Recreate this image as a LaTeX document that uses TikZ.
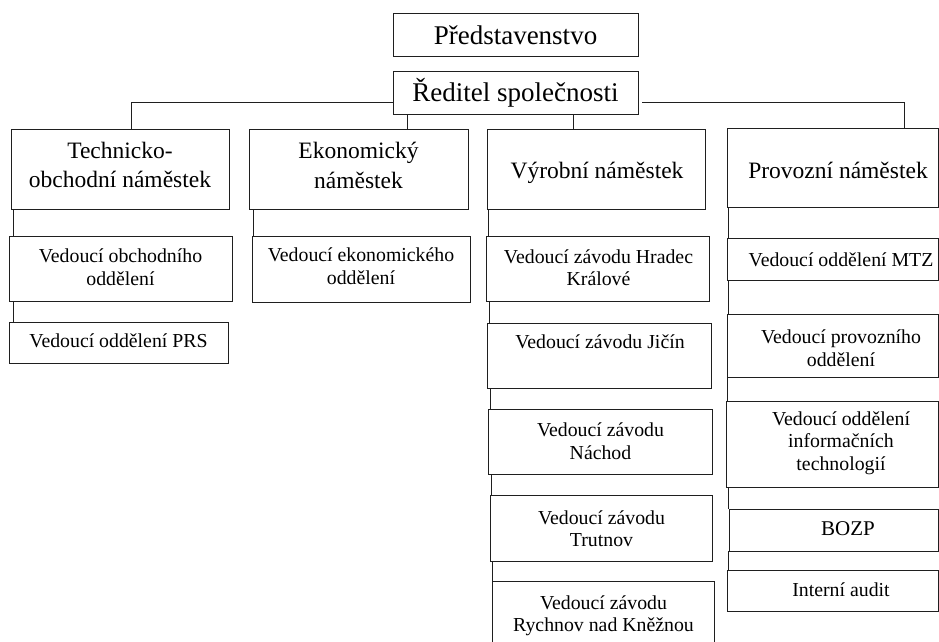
\documentclass[tikz,border=0pt]{standalone}
\usepackage{fontspec}
\setmainfont{Liberation Serif}

% box from its corners: name, x1, y1, x2, y2 (y grows downwards)
\newcommand\obox[5]{%
  \node[box, minimum width={(#4)-(#2)}, minimum height={(#5)-(#3)}]
    (#1) at ({((#2)+(#4))/2},{((#3)+(#5))/2}) {};}

\tikzset{
  box/.style={draw=black!88, line width=1pt, inner sep=0pt, outer sep=0pt},
  lnk/.style={draw=black!88, line width=1pt},
  toptxt/.style={font=\fontsize{27pt}{30pt}\selectfont, inner sep=0pt, anchor=base},
  headtxt/.style={font=\fontsize{23.5pt}{29.5pt}\selectfont, align=center, inner sep=0pt, anchor=base},
  subtxt/.style={font=\fontsize{19.8pt}{22.6pt}\selectfont, align=center, inner sep=0pt, anchor=base},
}

\begin{document}
\begin{tikzpicture}[x=1pt, y=-1pt]
\useasboundingbox (0,0) rectangle (939,642);
\fill[white] (0,0) rectangle (939,642);

% top of the hierarchy
\obox{pred}{393}{14}{638}{57}
\obox{red}{393}{71}{638}{114}
\node[toptxt] (pred-t) at (515.5,45) {Představenstvo};
\node[toptxt] (red-t) at (515.5,101.7) {Ředitel společnosti};

% deputies (text placed by the baseline of its last line)
\obox{tech}{11}{129}{229}{209}
\obox{ekon}{249}{129}{468}{209}
\obox{vyr}{487}{129}{705}{209}
\obox{prov}{727}{128}{938}{207}
\node[headtxt] (tech-t) at (120,187.7) {Technicko-\\obchodní náměstek};
\node[headtxt] (ekon-t) at (358.5,188.3) {Ekonomický\\náměstek};
\node[headtxt] (vyr-t) at (597,178.3) {Výrobní náměstek};
\node[headtxt] (prov-t) at (838,178.3) {Provozní náměstek};

% technical-commercial branch
\obox{obch}{9}{236}{232}{301}
\obox{prs}{9}{322}{228}{363}
\node[subtxt] (obch-t) at (120.5,285) {Vedoucí obchodního\\oddělení};
\node[subtxt] (prs-t) at (118.5,347.7) {Vedoucí oddělení PRS};

% economic branch
\obox{ekod}{252}{236}{470}{302}
\node[subtxt] (ekod-t) at (361,284.3) {Vedoucí ekonomického\\oddělení};

% production branch
\obox{hk}{486}{236}{709}{301}
\obox{jic}{487}{323}{711}{388}
\obox{nach}{488}{409}{712}{474}
\obox{trut}{490}{495}{712}{561}
\obox{rych}{492}{581}{714}{652}
\node[subtxt] (hk-t) at (598.5,285.7) {Vedoucí závodu Hradec\\Králové};
\node[subtxt] (jic-t) at (600,348.3) {Vedoucí závodu Jičín};
\node[subtxt] (nach-t) at (600.5,459.3) {Vedoucí závodu\\Náchod};
\node[subtxt] (trut-t) at (601.5,546.7) {Vedoucí závodu\\Trutnov};
\node[subtxt] (rych-t) at (603.5,631.7) {Vedoucí závodu\\Rychnov nad Kněžnou};

% operations branch
\obox{mtz}{727}{238}{938}{280}
\obox{provod}{727}{314}{938}{377}
\obox{it}{726}{401}{938}{487}
\obox{bozp}{729}{509}{938}{551}
\obox{audit}{727}{570}{938}{611}
\node[subtxt] (mtz-t) at (841,266) {Vedoucí oddělení MTZ};
\node[subtxt] (provod-t) at (841,366.5) {Vedoucí provozního\\oddělení};
\node[subtxt] (it-t) at (841,470.5) {Vedoucí oddělení\\informačních\\technologií};
\node[subtxt, font=\fontsize{21pt}{24pt}\selectfont] (bozp-t) at (848,535) {BOZP};
\node[subtxt] (audit-t) at (841,596) {Interní audit};

% links from the director to the deputies
\coordinate (rgap) at (642,102.5);
\draw[lnk] (red.west |- 0,102.5) -| (tech.north -| 131,0);
\draw[lnk] (rgap) -| (prov.north -| 904,0);
\draw[lnk] (red.south -| 407,0) -- (ekon.north -| 407,0);
\draw[lnk] (red.south -| 573,0) -- (vyr.north -| 573,0);

% links down each column
\draw[lnk] (tech.south -| 13,0) -- (obch.north -| 13,0);
\draw[lnk] (obch.south -| 13,0) -- (prs.north -| 13,0);

\draw[lnk] (ekon.south -| 253,0) -- (ekod.north -| 253,0);

\draw[lnk] (vyr.south -| 488,0) -- (hk.north -| 488,0);
\draw[lnk] (hk.south -| 489,0) -- (jic.north -| 489,0);
\draw[lnk] (jic.south -| 490,0) -- (nach.north -| 490,0);
\draw[lnk] (nach.south -| 491.5,0) -- (trut.north -| 491.5,0);
\draw[lnk] (trut.south -| 492.5,0) -- (rych.north -| 492.5,0);

\draw[lnk] (prov.south -| 728.5,0) -- (mtz.north -| 728.5,0);
\draw[lnk] (mtz.south -| 728.5,0) -- (provod.north -| 728.5,0);
\draw[lnk] (provod.south -| 727.5,0) -- (it.north -| 727.5,0);
\draw[lnk] (it.south -| 728.5,0) -- (bozp.north -| 728.5,0);
\draw[lnk] (bozp.south -| 728.5,0) -- (audit.north -| 728.5,0);
\end{tikzpicture}
\end{document}
